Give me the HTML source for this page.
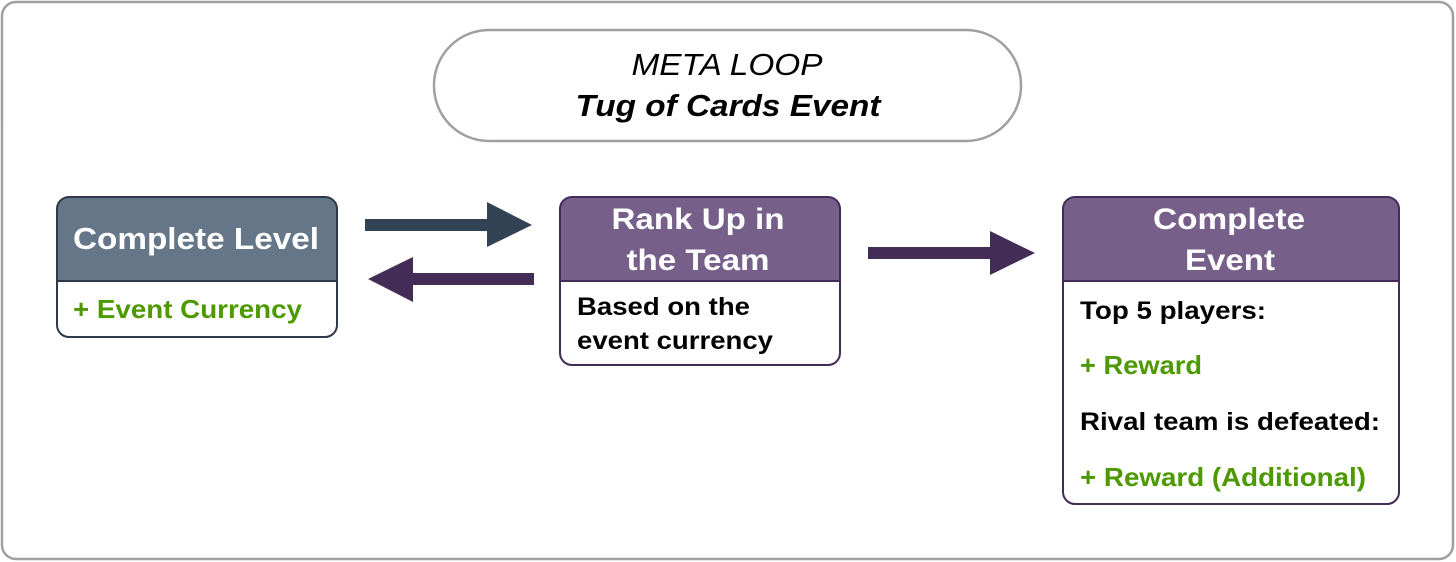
<!DOCTYPE html>
<html><head><meta charset="utf-8"><style>html,body{margin:0;padding:0;background:#fff}svg{display:block}</style></head><body>
<svg width="1456" height="562" viewBox="0 0 1456 562" xmlns="http://www.w3.org/2000/svg" font-family="'Liberation Sans', Arial, sans-serif">
<rect x="2" y="2" width="1451" height="557" rx="14" fill="#fff" stroke="#a0a0a0" stroke-width="2.5"/>
<rect x="434" y="30" width="587" height="111" rx="55" fill="#fff" stroke="#a0a0a0" stroke-width="2.5"/>
<text x="727" y="75" text-anchor="middle" font-size="31" font-style="italic" textLength="191" lengthAdjust="spacingAndGlyphs">META LOOP</text>
<text x="728" y="116" text-anchor="middle" font-size="31" font-style="italic" font-weight="bold" textLength="305" lengthAdjust="spacingAndGlyphs">Tug of Cards Event</text>

<path d="M57,281 V209 a12,12 0 0 1 12,-12 H325 a12,12 0 0 1 12,12 V281 Z" fill="#647687"/>
<rect x="57" y="197" width="280" height="140" rx="12" fill="none" stroke="#2e3a4a" stroke-width="2"/>
<line x1="57" y1="281" x2="337" y2="281" stroke="#2e3a4a" stroke-width="2"/>
<text x="73" y="249" font-size="31" font-weight="bold" fill="#fff" textLength="246" lengthAdjust="spacingAndGlyphs">Complete Level</text>
<text x="73" y="318" font-size="26" font-weight="bold" fill="#4d9900" textLength="229" lengthAdjust="spacingAndGlyphs">+ Event Currency</text>

<polygon points="365,219 487,219 487,202 532,225 487,247 487,231 365,231" fill="#314354"/>
<polygon points="534,273 413,273 413,257 368,279 413,302 413,285 534,285" fill="#432d57"/>
<polygon points="868,247 990,247 990,231 1035,253 990,275 990,259 868,259" fill="#432d57"/>

<path d="M560,281 V209 a12,12 0 0 1 12,-12 H828 a12,12 0 0 1 12,12 V281 Z" fill="#76608a"/>
<rect x="560" y="197" width="280" height="168" rx="12" fill="none" stroke="#432d57" stroke-width="2"/>
<line x1="560" y1="281" x2="840" y2="281" stroke="#432d57" stroke-width="2"/>
<text x="698" y="229" text-anchor="middle" font-size="30" font-weight="bold" fill="#fff" textLength="173" lengthAdjust="spacingAndGlyphs">Rank Up in</text>
<text x="698" y="270" text-anchor="middle" font-size="30" font-weight="bold" fill="#fff" textLength="143" lengthAdjust="spacingAndGlyphs">the Team</text>
<text x="577" y="315" font-size="25" font-weight="bold" fill="#000" textLength="173" lengthAdjust="spacingAndGlyphs">Based on the</text>
<text x="577" y="349" font-size="25" font-weight="bold" fill="#000" textLength="196" lengthAdjust="spacingAndGlyphs">event currency</text>

<path d="M1063,281 V209 a12,12 0 0 1 12,-12 H1387 a12,12 0 0 1 12,12 V281 Z" fill="#76608a"/>
<rect x="1063" y="197" width="336" height="307" rx="12" fill="none" stroke="#432d57" stroke-width="2"/>
<line x1="1063" y1="281" x2="1399" y2="281" stroke="#432d57" stroke-width="2"/>
<text x="1229" y="229" text-anchor="middle" font-size="30" font-weight="bold" fill="#fff" textLength="152" lengthAdjust="spacingAndGlyphs">Complete</text>
<text x="1230" y="270" text-anchor="middle" font-size="30" font-weight="bold" fill="#fff" textLength="90" lengthAdjust="spacingAndGlyphs">Event</text>
<text x="1080" y="319" font-size="25" font-weight="bold" fill="#000" textLength="186" lengthAdjust="spacingAndGlyphs">Top 5 players:</text>
<text x="1080" y="374" font-size="26" font-weight="bold" fill="#4d9900" textLength="122" lengthAdjust="spacingAndGlyphs">+ Reward</text>
<text x="1080" y="430" font-size="25" font-weight="bold" fill="#000" textLength="300" lengthAdjust="spacingAndGlyphs">Rival team is defeated:</text>
<text x="1080" y="486" font-size="26" font-weight="bold" fill="#4d9900" textLength="286" lengthAdjust="spacingAndGlyphs">+ Reward (Additional)</text>
</svg>
</body></html>
